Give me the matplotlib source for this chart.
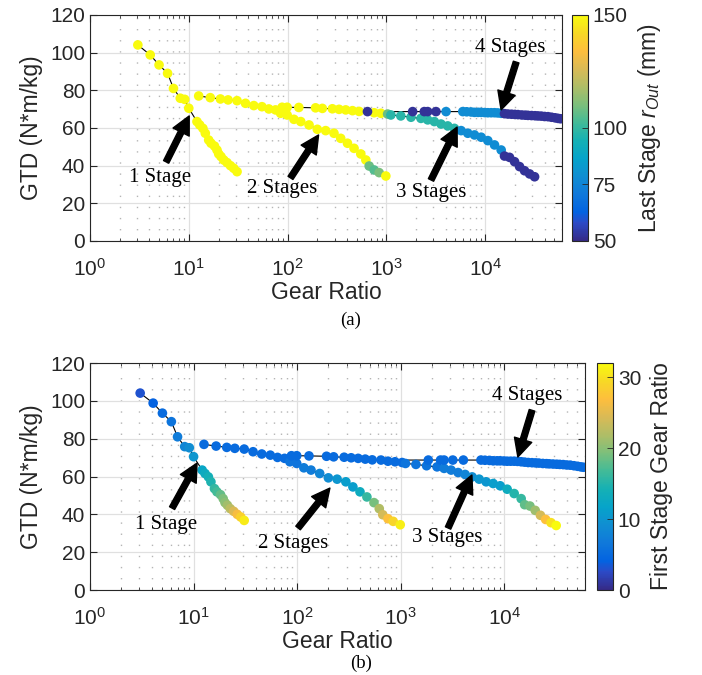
import numpy as np
import matplotlib
matplotlib.use('Agg')
import matplotlib.pyplot as plt
from matplotlib.colors import LinearSegmentedColormap, Normalize
from matplotlib.cm import ScalarMappable
from matplotlib.ticker import LogLocator, NullFormatter, FixedLocator

plt.rcParams['font.family'] = ['Liberation Sans', 'DejaVu Sans']
plt.rcParams['mathtext.fontset'] = 'custom'
plt.rcParams['mathtext.rm'] = 'Liberation Sans'
plt.rcParams['mathtext.it'] = 'Liberation Sans:italic'
plt.rcParams['mathtext.default'] = 'regular'

# ---------------- data ----------------
# 1 stage
ratio_1 = [3.05, 4.07, 5.0, 6.1, 7.0, 8.2, 9.1, 10.0, 12.1, 12.9, 13.9, 14.7, 15.9, 16.8,
           18.2, 19.3, 20.1, 21.2, 22.6, 24.4, 26.4, 28.5, 30.8]
gtd_1 = [104.1, 98.8, 93.5, 89.0, 81.0, 75.8, 75.2, 70.5, 63.4, 61.6, 59.8, 57.2, 53.6, 51.9,
         50.4, 48.3, 46.2, 44.8, 43.0, 41.6, 40.0, 38.6, 36.8]
rout_1 = [150] * 23
first_1 = ratio_1

# 2 stages
ratio_2 = [12.6, 16.5, 20.9, 25.0, 30.8, 37.5, 45.5, 55.0, 64.6, 75.5,
           85, 99, 116, 136, 165, 200, 243, 295, 345, 404, 471, 551, 620, 670, 752, 845, 988]
gtd_2 = [77.0, 76.1, 75.4, 74.9, 74.5, 73.1, 71.9, 71.3, 70.1, 69.6,
         67.8, 66.9, 64.6, 63.4, 61.6, 59.3, 58.6, 57.2, 54.5, 51.9, 49.2, 46.2, 43.0, 39.8, 37.7, 36.3, 34.5]
rout_2 = [150] * 23 + [108, 105, 110, 150]
first_2 = [5] * 10 + [6, 6, 7, 7, 8, 9, 10, 11, 11, 13, 16, 19, 22, 24, 27, 29, 31]

# 3 stages
ratio_3 = [88, 99, 130, 192, 225, 284, 332, 388, 454, 530, 752, 880, 1030,
           1111, 1400, 1775, 2240, 2620, 3060, 3575, 4180, 4885, 5710, 6670, 7800, 9110,
           10640, 12440, 14530, 15700, 17650, 19850, 22300, 25050, 28200, 31650]
gtd_3 = [71.0, 71.0, 70.9, 70.7, 70.4, 70.2, 69.9, 69.6, 69.2, 68.8, 68.1, 67.8, 67.4,
         66.9, 66.4, 65.7, 65.1, 64.3, 63.4, 62.1, 61.1, 59.8, 58.6, 57.2, 56.3, 55.1,
         53.3, 51.0, 48.3, 45.1, 44.4, 42.1, 39.5, 37.3, 35.6, 34.1]
rout_3 = [150] * 12 + [108] + [98] * 9 + [78] * 7 + [52] * 7
first_3 = [5] * 13 + [6, 6, 6, 6, 7, 7, 7, 8, 9, 10, 10, 11, 11, 13, 15, 16, 18, 19, 21, 24, 27, 30, 32]

# 4 stages
ratio_4 = [644, 1845, 2420, 2620, 3180, 4020, 5940, 6500, 7200, 7800, 8500, 9100, 9900,
           10640, 11500, 12440, 13400, 14530, 15700, 17000, 18500, 20000, 21500, 23500,
           25500, 27150, 29500, 32000, 34250, 37000, 40000, 43300, 47000, 51000, 54700, 58000]
gtd_4 = [68.7, 68.7, 68.7, 68.7, 68.7, 68.7, 68.7, 68.6, 68.5, 68.3, 68.3, 68.3, 68.2,
         68.1, 68.1, 68.1, 68.0, 67.8, 67.6, 67.4, 67.3, 67.2, 67.1, 66.9,
         66.8, 66.7, 66.6, 66.5, 66.4, 66.3, 66.1, 66.0, 65.7, 65.4, 65.1, 64.9]
rout_4 = [52] * 5 + [78] * 13 + [52] * 18
first_4 = [5] * 36

ratios = [ratio_1, ratio_2, ratio_3, ratio_4]
gtds = [gtd_1, gtd_2, gtd_3, gtd_4]
routs = [rout_1, rout_2, rout_3, rout_4]
firsts = [first_1, first_2, first_3, first_4]

stage_labels = ['1 Stage', '2 Stages', '3 Stages', '4 Stages']
# annotation (text position, arrow tail, arrow tip) in data coords
ann_a = [((5.1, 33.5), (5.9, 42), (10.1, 66.4)),
         ((89, 28), (107, 33.5), (206, 56.3)),
         ((2830, 26), (2830, 32.4), (5200, 60.5)),
         ((17900, 102.5), (20600, 95), (14500, 69.6))]
ann_b = [((5.4, 34.4), (6.2, 43.3), (10.8, 67.1)),
         ((91, 24.8), (102, 32.8), (207, 53.9)),
         ((2790, 27.5), (2860, 32.8), (4860, 60.8)),
         ((16500, 103), (18500, 95), (13500, 70.3))]

# parula colormap
parula_pts = [(0.2081, 0.1663, 0.5292), (0.1707, 0.2919, 0.7792), (0.0117, 0.3875, 0.8820),
              (0.0629, 0.4737, 0.8554), (0.0641, 0.5570, 0.8240), (0.0231, 0.6418, 0.7913),
              (0.0843, 0.6928, 0.7062), (0.2586, 0.7317, 0.5954), (0.4871, 0.7491, 0.4840),
              (0.6834, 0.7435, 0.4044), (0.8507, 0.7299, 0.3360), (0.9938, 0.7455, 0.2403),
              (0.9697, 0.8481, 0.1475), (0.9763, 0.9831, 0.0538)]
parula_pos = [0, 5, 8, 13, 18, 23, 28, 33, 38, 43, 48, 53, 58, 63]
parula = LinearSegmentedColormap.from_list(
    'parula', [(p / 63, c) for p, c in zip(parula_pos, parula_pts)])

fig = plt.figure(figsize=(7.02, 6.75), dpi=100)
DARK = '#262626'
SERIF = ['Liberation Serif', 'DejaVu Serif']


def setup(ax):
    ax.set_xscale('log')
    ax.set_xlim(1, 6e4)
    ax.set_ylim(0, 120)
    ax.set_yticks([0, 20, 40, 60, 80, 100, 120])
    ax.xaxis.set_major_locator(FixedLocator([1, 10, 100, 1000, 10000]))
    ax.xaxis.set_minor_locator(LogLocator(base=10, subs=np.arange(2, 10), numticks=20))
    ax.xaxis.set_minor_formatter(NullFormatter())
    ax.set_axisbelow(True)
    ax.grid(which='major', color='#e0e0e0', lw=0.9)
    ax.grid(which='minor', axis='x', color='#b5b5b5', lw=1.0, ls=(0, (1, 7)))
    ax.tick_params(which='both', direction='in', top=True, right=True, colors=DARK,
                   labelsize=15)
    ax.tick_params(which='major', length=5, width=0.8)
    ax.tick_params(which='minor', length=2.5, width=0.6)
    ax.tick_params(axis='x', pad=12)
    for s in ax.spines.values():
        s.set_color(DARK)
        s.set_linewidth(0.8)
    ax.set_xlabel('Gear Ratio', fontsize=16.5, color=DARK, labelpad=1)
    ax.set_ylabel('GTD (N*m/kg)', fontsize=16.5, color=DARK, labelpad=5)


def draw(ax, cvals, norm, anns):
    for r, g in zip(ratios, gtds):
        ax.plot(r, g, color='k', lw=0.8, zorder=2)
    for r, g, c in zip(ratios, gtds, cvals):
        ax.scatter(r, g, c=c, cmap=parula, norm=norm, s=48, linewidths=0, zorder=3)
    for lab, (txt, tail, tip) in zip(stage_labels, anns):
        ax.annotate('', xy=tip, xytext=tail,
                    arrowprops=dict(facecolor='k', edgecolor='k', width=4.2,
                                    headwidth=13, headlength=13, shrink=0), zorder=4)
        ax.text(txt[0], txt[1], lab, ha='center', va='center',
                family=SERIF, fontsize=15, zorder=5)


def cbar(cax, norm, ticks, label):
    cb = fig.colorbar(ScalarMappable(norm=norm, cmap=parula), cax=cax)
    cb.set_ticks(ticks)
    cb.ax.tick_params(direction='in', length=4, width=0.6, colors=DARK, labelsize=15)
    cb.outline.set_edgecolor(DARK)
    cb.outline.set_linewidth(0.8)
    cb.set_label(label, fontsize=16.5, color=DARK, labelpad=6)
    return cb


# panel (a)
ax1 = fig.add_axes([0.1282, 0.643, 0.6724, 0.3348])
setup(ax1)
norm1 = Normalize(50, 150)
draw(ax1, routs, norm1, ann_a)
cax1 = fig.add_axes([0.8148, 0.643, 0.0228, 0.3348])
cbar(cax1, norm1, [50, 75, 100, 150], r'Last Stage $\mathit{r_{Out}}$ (mm)')
fig.text(0.499, 0.526, '(a)', ha='center', va='center', family=SERIF, fontsize=13.5)

# panel (b)
ax2 = fig.add_axes([0.1282, 0.1259, 0.7051, 0.3363])
setup(ax2)
norm2 = Normalize(0, 32)
draw(ax2, firsts, norm2, ann_b)
cax2 = fig.add_axes([0.8504, 0.1259, 0.0228, 0.3363])
cbar(cax2, norm2, [0, 10, 20, 30], 'First Stage Gear Ratio')
fig.text(0.515, 0.018, '(b)', ha='center', va='center', family=SERIF, fontsize=13.5)

fig.savefig('out.png', dpi=100)
